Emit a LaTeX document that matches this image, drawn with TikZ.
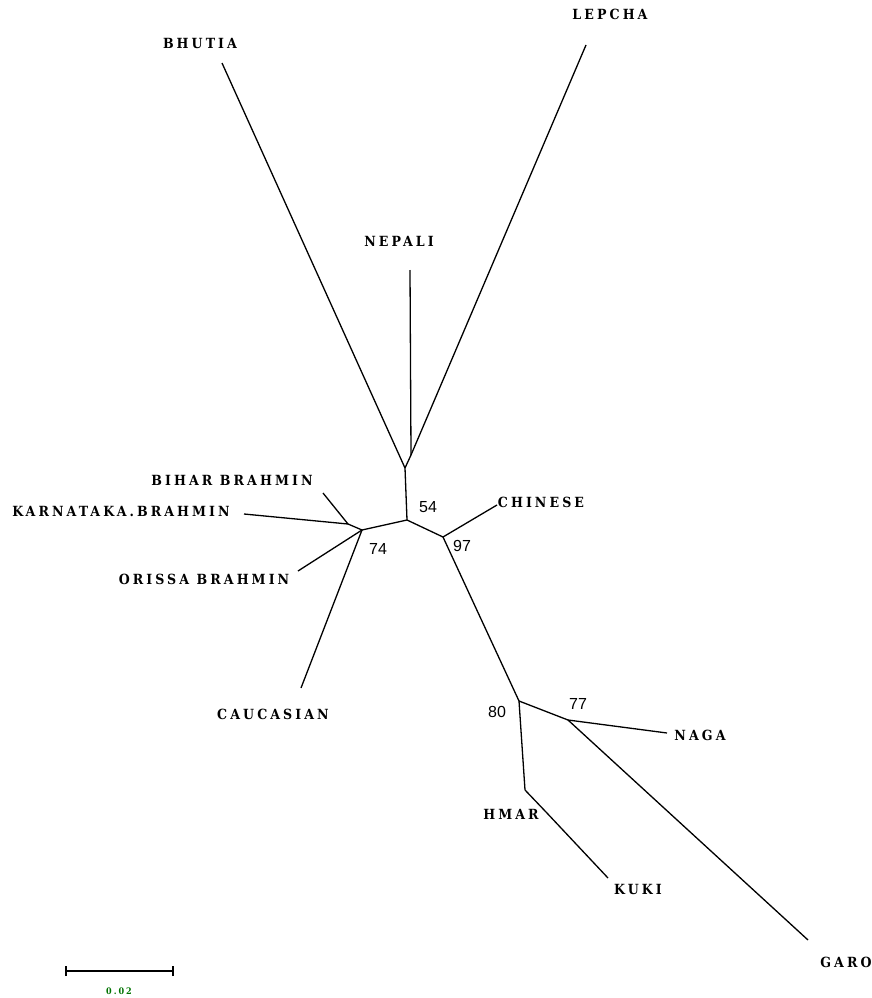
\documentclass[tikz,border=0pt]{standalone}
\usepackage{fontspec}
\newfontfamily\labfont[LetterSpace=22]{DejaVu Serif Condensed Bold}
\newfontfamily\numfont{Liberation Sans}
\begin{document}
\begin{tikzpicture}[x=1pt,y=-1pt,
  branch/.style={line width=1.3pt,black},
  taxon/.style={font=\labfont\fontsize{14}{14}\selectfont,inner sep=0pt,anchor=center},
  boot/.style={font=\numfont\fontsize{16}{16}\selectfont,inner sep=0pt,anchor=center}]
\useasboundingbox (0,0) rectangle (871,998);
% internal nodes
\coordinate (C) at (411,455);
\coordinate (B) at (405,468);
\coordinate (A) at (407,520);
\coordinate (E) at (348,524);
\coordinate (D) at (362,530);
\coordinate (F) at (443,537);
\coordinate (G) at (519,701);
\coordinate (H) at (568,720);
\coordinate (I) at (525,790);
\coordinate (J) at (546,812);
% leaf ends
\coordinate (bhu) at (222,63);
\coordinate (lep) at (586,45);
\coordinate (nep) at (410,270);
\coordinate (bih) at (323,493);
\coordinate (kar) at (244,514);
\coordinate (ori) at (298,571);
\coordinate (cau) at (301,688);
\coordinate (chi) at (497,505);
\coordinate (nag) at (667,733);
\coordinate (gar) at (808,940);
\coordinate (kuk) at (608,878);
% branches
\draw[branch] (C) -- (nep);
\draw[branch] (C) -- (lep);
\draw[branch] (B) -- (C);
\draw[branch] (B) -- (bhu);
\draw[branch] (A) -- (B);
\draw[branch] (A) -- (D);
\draw[branch] (D) -- (E);
\draw[branch] (E) -- (bih);
\draw[branch] (E) -- (kar);
\draw[branch] (D) -- (ori);
\draw[branch] (D) -- (cau);
\draw[branch] (A) -- (F);
\draw[branch] (F) -- (chi);
\draw[branch] (F) -- (G);
\draw[branch] (G) -- (H);
\draw[branch] (H) -- (nag);
\draw[branch] (H) -- (gar);
\draw[branch] (G) -- (I);
\draw[branch] (I) -- (J);
\draw[branch] (J) -- (kuk);
% labels
\node[taxon] (lbhu) at (200,43) {BHUTIA};
\node[taxon] (llep) at (610,14) {LEPCHA};
\node[taxon] (lnep) at (399,241) {NEPALI};
\node[taxon] (lbih) at (232,480) {BIHAR BRAHMIN};
\node[taxon] (lkar) at (121,511) {KARNATAKA.BRAHMIN};
\node[taxon] (lchi) at (541,502) {CHINESE};
\node[taxon] (lori) at (204,579) {ORISSA BRAHMIN};
\node[taxon] (lcau) at (273,714) {CAUCASIAN};
\node[taxon] (lnag) at (700,735) {NAGA};
\node[taxon] (lhma) at (511,814) {HMAR};
\node[taxon] (lkuk) at (638,889) {KUKI};
\node[taxon] (lgar) at (846,962) {GARO};
% bootstrap values
\node[boot] (b54) at (428,507) {54};
\node[boot] (b74) at (378,549) {74};
\node[boot] (b97) at (462,546) {97};
\node[boot] (b80) at (497,712) {80};
\node[boot] (b77) at (578,704) {77};
% scale bar
\coordinate (s1) at (66,971);
\coordinate (s2) at (173,971);
\draw[line width=1.5pt] (s1) -- (s2);
\draw[line width=1.3pt] ([yshift=-5pt]s1) -- ([yshift=5pt]s1);
\draw[line width=1.3pt] ([yshift=-5pt]s2) -- ([yshift=5pt]s2);
\node[font=\labfont\fontsize{9}{9}\selectfont,text=green!45!black,inner sep=0pt] (slab) at (119,991) {0.02};
\end{tikzpicture}
\end{document}
